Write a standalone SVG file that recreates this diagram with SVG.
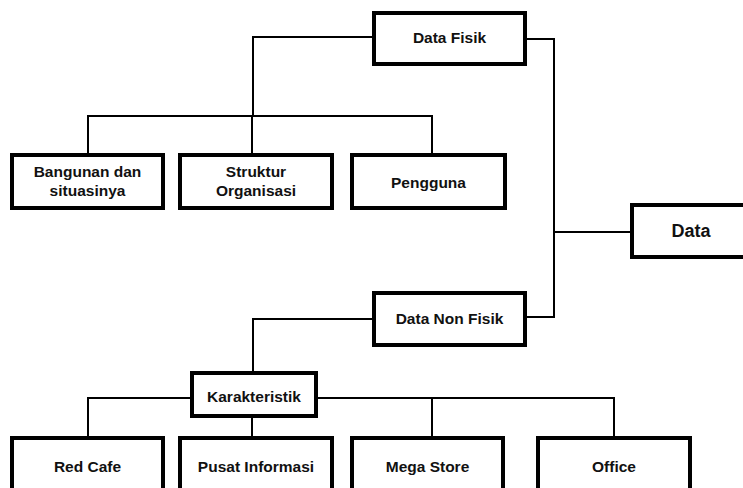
<svg xmlns="http://www.w3.org/2000/svg" width="743" height="488" viewBox="0 0 743 488">
<style>
.box{fill:#fff;stroke:#000;stroke-width:4}
.t{font-family:"Liberation Sans",Arial,sans-serif;font-weight:bold;font-size:15.5px;fill:#111;text-anchor:middle}
.big{font-size:18px}
.c{fill:none;stroke:#000;stroke-width:2}
</style>
<rect width="743" height="488" fill="#fff"/>
<g id="connectors">
<path class="c" d="M374,37 H253 V116"/>
<path class="c" d="M88,155 V116 H432 V155"/>
<path class="c" d="M252,116 V155"/>
<path class="c" d="M525,39 H554 V317 H525"/>
<path class="c" d="M554,232 H632"/>
<path class="c" d="M374,319 H253 V373"/>
<path class="c" d="M192,398 H88 V438"/>
<path class="c" d="M316,398 H614 V438"/>
<path class="c" d="M432,398 V438"/>
<path class="c" d="M252,416 V438"/>
</g>
<g id="data-fisik"><rect class="box" x="374" y="13" width="151" height="51"/><text class="t" x="449.5" y="43">Data Fisik</text></g>
<g id="bangunan"><rect class="box" x="12" y="155" width="151" height="53"/><text class="t" x="87.5" y="177">Bangunan dan</text><text class="t" x="87.5" y="196">situasinya</text></g>
<g id="struktur"><rect class="box" x="180" y="155" width="152" height="53"/><text class="t" x="256" y="177">Struktur</text><text class="t" x="256" y="196">Organisasi</text></g>
<g id="pengguna"><rect class="box" x="352" y="155" width="153" height="53"/><text class="t" x="428.5" y="188">Pengguna</text></g>
<g id="data"><rect class="box" x="632" y="205" width="120" height="52"/><text class="t big" x="691" y="237">Data</text></g>
<g id="data-non-fisik"><rect class="box" x="374" y="293" width="151" height="52"/><text class="t" x="449.5" y="324">Data Non Fisik</text></g>
<g id="karakteristik"><rect class="box" x="192" y="373" width="124" height="43"/><text class="t" x="254" y="402">Karakteristik</text></g>
<g id="red-cafe"><rect class="box" x="12" y="438" width="151" height="60"/><text class="t" x="87.5" y="472">Red Cafe</text></g>
<g id="pusat-informasi"><rect class="box" x="180" y="438" width="152" height="60"/><text class="t" x="256" y="472">Pusat Informasi</text></g>
<g id="mega-store"><rect class="box" x="352" y="438" width="151" height="60"/><text class="t" x="427.5" y="472">Mega Store</text></g>
<g id="office"><rect class="box" x="538" y="438" width="152" height="60"/><text class="t" x="614" y="472">Office</text></g>
</svg>
